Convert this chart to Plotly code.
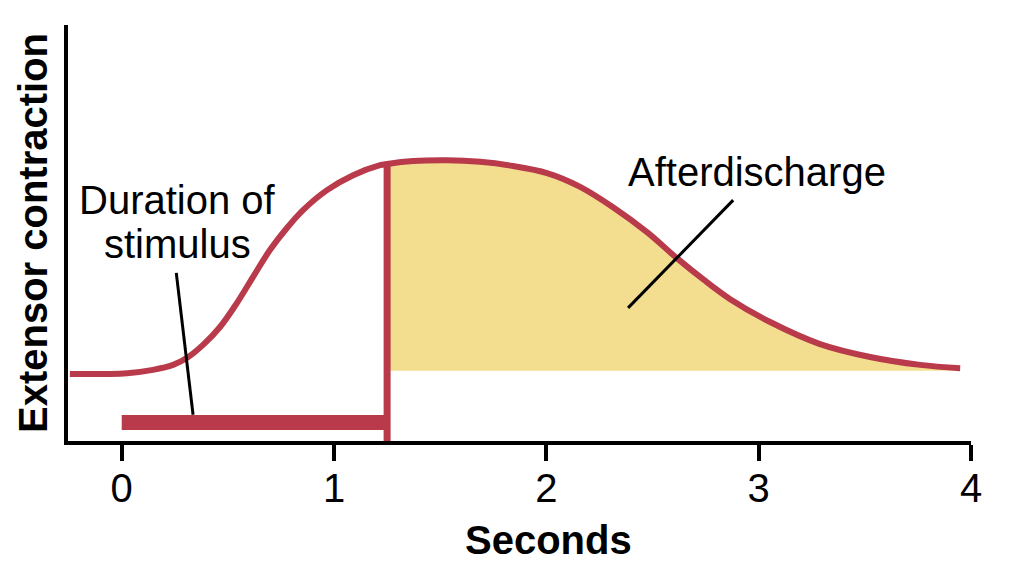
import plotly.graph_objects as go

# ---- data ----
seconds = [-0.244, 0.025, 0.147, 0.242, 0.308, 0.383, 0.463, 0.543, 0.618, 0.698,
           0.778, 0.854, 0.967, 1.090, 1.217, 1.25, 1.372, 1.532, 1.688, 1.843,
           2.003, 2.159, 2.314, 2.474, 2.616, 2.738, 2.866, 3.054, 3.289, 3.525,
           3.760, 3.949]
contraction = [16.1, 16.3, 17.1, 18.3, 20.0, 23.1, 27.4, 33.2, 39.4, 45.9,
               51.2, 55.5, 60.3, 63.9, 66.3, 66.6, 67.3, 67.5, 67.1, 66.1,
               64.4, 61.1, 56.2, 50.2, 43.9, 38.9, 34.1, 28.6, 23.3, 20.2,
               18.3, 17.5]
stim_start, stim_end = 0.0, 1.25
stim_level = 4.45
fill_base = 16.9
x_ticks = [0, 1, 2, 3, 4]
x_tick_labels = ["0", "1", "2", "3", "4"]

RED = "#b83a4b"
YELLOW = "#f2de8e"
FONT = "Liberation Sans, Arial, Helvetica, sans-serif"
FS = 40

after_x = [x for x in seconds if x >= stim_end]
after_y = [y for x, y in zip(seconds, contraction) if x >= stim_end]

fig = go.Figure()
# afterdischarge fill
fig.add_trace(go.Scatter(x=[after_x[0], after_x[-1]], y=[fill_base, fill_base],
                         mode="lines", line=dict(width=0, color=YELLOW),
                         hoverinfo="skip", showlegend=False))
fig.add_trace(go.Scatter(x=after_x, y=after_y, mode="lines", fill="tonexty",
                         fillcolor=YELLOW, line=dict(width=0, shape="spline", color=YELLOW),
                         hoverinfo="skip", showlegend=False))
# contraction curve
fig.add_trace(go.Scatter(x=seconds, y=contraction, mode="lines",
                         line=dict(color=RED, width=6, shape="spline"),
                         showlegend=False))
# end of stimulus vertical line
fig.add_trace(go.Scatter(x=[stim_end, stim_end], y=[-0.5, after_y[0]], mode="lines",
                         line=dict(color=RED, width=7), showlegend=False))
# stimulus bar
fig.add_trace(go.Scatter(x=[stim_start, stim_end], y=[stim_level, stim_level], mode="lines",
                         line=dict(color=RED, width=15), showlegend=False))

# pointer lines
fig.add_shape(type="line", x0=0.257, y0=40.4, x1=0.336, y1=6.3,
              line=dict(color="black", width=3))
fig.add_shape(type="line", x0=2.880, y0=57.9, x1=2.385, y1=32.0,
              line=dict(color="black", width=3))

fig.add_annotation(x=0.263, y=57.9, text="Duration of", showarrow=False,
                   font=dict(family=FONT, size=FS, color="black"), xanchor="center", yanchor="middle")
fig.add_annotation(x=0.263, y=47.4, text="stimulus", showarrow=False,
                   font=dict(family=FONT, size=FS, color="black"), xanchor="center", yanchor="middle")
fig.add_annotation(x=2.993, y=64.7, text="Afterdischarge", showarrow=False,
                   font=dict(family=FONT, size=FS, color="black"), xanchor="center", yanchor="middle")
# x-axis title (placed under the "2" tick as in the reference)
fig.add_annotation(x=2.01, xref="x", y=-0.238, yref="paper", text="<b>Seconds</b>",
                   showarrow=False, font=dict(family=FONT, size=FS, color="black"),
                   xanchor="center", yanchor="middle")

fig.update_layout(
    width=1022, height=577,
    margin=dict(l=68, r=51, t=25, b=136),
    paper_bgcolor="white", plot_bgcolor="white",
    font=dict(family=FONT, size=FS, color="black"),
    showlegend=False,
    xaxis=dict(range=[-0.253, 4.0], showgrid=False, zeroline=False,
               showline=True, linecolor="black", linewidth=4,
               ticks="outside", ticklen=16, tickwidth=4, tickcolor="black",
               tickvals=x_ticks, ticktext=x_tick_labels, ticklabelstandoff=-7,
               tickfont=dict(family=FONT, size=FS, color="black")),
    yaxis=dict(range=[0, 100], showgrid=False, zeroline=False,
               showline=True, linecolor="black", linewidth=4,
               showticklabels=False, ticks="",
               title=dict(text="<b>Extensor contraction</b>", standoff=5,
                          font=dict(family=FONT, size=FS, color="black"))),
)

fig.write_html("out.html", config={"displayModeBar": False},
               post_script="document.body.style.margin='0';document.body.style.overflow='hidden';")
